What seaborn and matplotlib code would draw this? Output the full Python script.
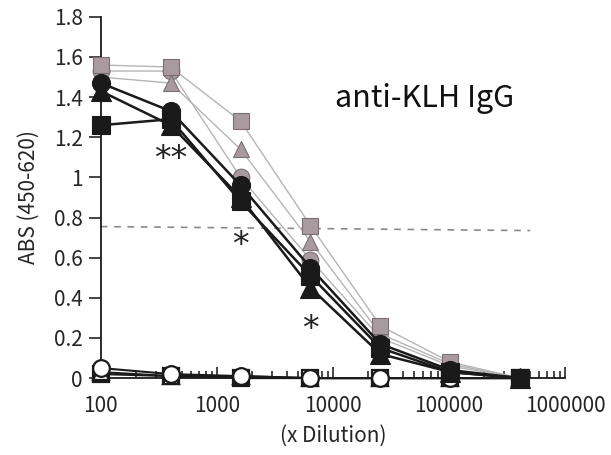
import matplotlib
matplotlib.use("Agg")
import matplotlib.pyplot as plt
from matplotlib.ticker import LogLocator, NullFormatter, FixedLocator
import seaborn as sns
import numpy as np

# -----------------------------
# Data
# -----------------------------
dilution = [100, 400, 1600, 6400, 25600, 102400, 409600]

gray_square = [1.56, 1.55, 1.28, 0.76, 0.26, 0.08, 0.00]
gray_triangle = [1.50, 1.47, 1.14, 0.68, 0.22, 0.07, 0.00]
gray_circle = [1.53, 1.53, 1.00, 0.59, 0.20, 0.06, 0.00]

black_circle = [1.47, 1.33, 0.96, 0.55, 0.17, 0.04, 0.00]
black_triangle = [1.43, 1.26, 0.90, 0.45, 0.12, 0.03, 0.00]
black_square = [1.26, 1.29, 0.88, 0.51, 0.15, 0.03, 0.00]

open_square = [0.02, 0.01, 0.00, 0.00, 0.00, 0.00, 0.00]
open_triangle = [0.03, 0.01, 0.01, 0.00, 0.00, 0.00, 0.00]
open_circle = [0.05, 0.02, 0.01, 0.00, 0.00, 0.00, 0.00]

cutoff_x = [100, 500000]
cutoff_y = [0.755, 0.735]

star_x = [400, 1600, 6400]
star_y = [1.09, 0.66, 0.24]
star_text = ["**", "*", "*"]

yticks = [0, 0.2, 0.4, 0.6, 0.8, 1.0, 1.2, 1.4, 1.6, 1.8]
ytick_labels = ["0", "0.2", "0.4", "0.6", "0.8", "1", "1.2", "1.4", "1.6", "1.8"]
xticks = [100, 1000, 10000, 100000, 1000000]
xtick_labels = ["100", "1000", "10000", "100000", "1000000"]

# -----------------------------
# Style
# -----------------------------
sns.set_style("ticks")
plt.rcParams["font.family"] = ["Noto Sans CJK JP", "DejaVu Sans"]

fig = plt.figure(figsize=(6.11, 4.55), dpi=100)
ax = fig.add_axes([0.165, 0.169, 0.76, 0.794])

gray_fill = "#a99a9f"
gray_edge = "#7a6f72"
gray_line = "#b5b5b5"
black = "#1a1a1a"

for vals, mk, ms in [(gray_circle, "o", 12), (gray_triangle, "^", 12), (gray_square, "s", 12)]:
    sns.lineplot(x=dilution, y=vals, ax=ax, color=gray_line, linewidth=1.0,
                 marker=mk, markersize=ms, markerfacecolor=gray_fill,
                 markeredgecolor=gray_edge, markeredgewidth=0.8, clip_on=False, zorder=3)

for vals, mk, ms in [(open_square, "s", 12), (open_triangle, "^", 12), (open_circle, "o", 12)]:
    sns.lineplot(x=dilution, y=vals, ax=ax, color=black, linewidth=1.5,
                 marker=mk, markersize=ms, markerfacecolor="white",
                 markeredgecolor=black, markeredgewidth=1.6, clip_on=False, zorder=4)

for vals, mk, ms in [(black_square, "s", 13), (black_triangle, "^", 14), (black_circle, "o", 13)]:
    sns.lineplot(x=dilution, y=vals, ax=ax, color=black, linewidth=1.8,
                 marker=mk, markersize=ms, markerfacecolor=black,
                 markeredgecolor=black, markeredgewidth=0.8, clip_on=False, zorder=5)

# cut-off line
ax.plot(cutoff_x, cutoff_y, linestyle=(0, (4, 4)), color="#8a8a8a", linewidth=1.2, zorder=2)

# significance marks
for sx, sy, st in zip(star_x, star_y, star_text):
    ax.text(sx, sy, st, ha="center", va="center", fontsize=24, color="#222222",
            family=["DejaVu Sans"])

ax.text(0.505, 0.775, "anti-KLH IgG", transform=ax.transAxes, fontsize=22, color="#111111",
        ha="left", va="center")

# -----------------------------
# Axes
# -----------------------------
ax.set_xscale("log")
ax.set_xlim(100, 1000000)
ax.set_ylim(0, 1.8)
ax.yaxis.set_major_locator(FixedLocator(yticks))
ax.set_yticklabels(ytick_labels)
ax.xaxis.set_major_locator(FixedLocator(xticks))
ax.set_xticklabels(xtick_labels)
ax.xaxis.set_minor_locator(LogLocator(base=10, subs=np.arange(2, 10)))
ax.xaxis.set_minor_formatter(NullFormatter())

ax.tick_params(axis="y", direction="out", length=9, width=1.2, labelsize=15, pad=4)
ax.tick_params(axis="x", which="major", direction="in", length=8, width=1.2, labelsize=15, pad=12)
ax.tick_params(axis="x", which="minor", direction="in", length=5, width=1.2)

sns.despine(ax=ax)
for sp in ["left", "bottom"]:
    ax.spines[sp].set_linewidth(1.3)
    ax.spines[sp].set_color(black)

ax.set_xlabel("(x Dilution)", fontsize=15, labelpad=6)
ax.set_ylabel("ABS (450-620)", fontsize=15, labelpad=10)

fig.savefig("out.png", dpi=100)
